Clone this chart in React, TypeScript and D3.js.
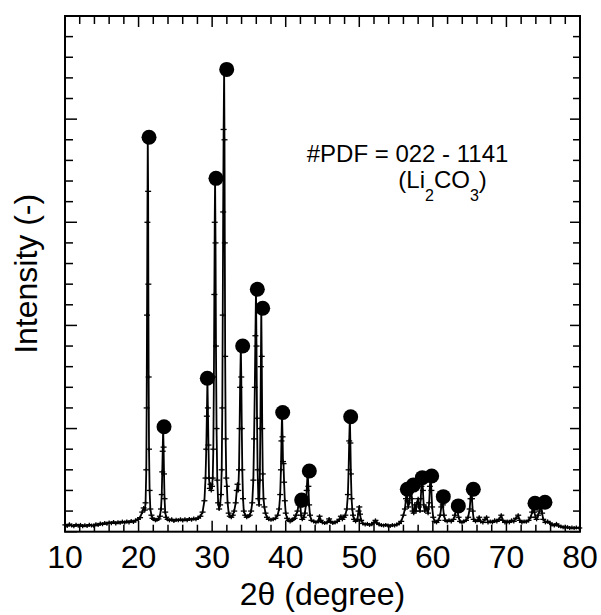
import React from 'react';
import * as d3 from 'd3';

// 2θ (degree), intensity (arbitrary units, 0–25 full scale)
const PROFILE: [number, number][] = [
  [10.05,0.33],[10.3,0.28],[10.6,0.36],[10.9,0.30],[11.2,0.27],[11.5,0.34],[11.8,0.29],[12.1,0.33],[12.4,0.26],[12.7,0.31],
  [13.0,0.28],[13.3,0.34],[13.6,0.30],[13.9,0.29],[14.2,0.36],[14.5,0.32],[14.8,0.40],[15.1,0.36],[15.4,0.42],[15.7,0.38],
  [16.0,0.45],[16.3,0.41],[16.6,0.47],[16.9,0.40],[17.2,0.46],[17.5,0.43],[17.8,0.49],[18.1,0.44],[18.4,0.50],[18.7,0.45],
  [19.0,0.52],[19.3,0.47],[19.6,0.55],[19.9,0.60],[20.2,0.68],[20.5,0.95],[20.7,1.15],[20.85,1.05],[20.95,1.4],[21.05,3.0],
  [21.1,6.0],[21.15,10.5],[21.2,15.0],[21.25,19.1],[21.3,16.5],[21.33,12.0],[21.37,7.5],[21.42,4.0],[21.5,2.0],[21.6,1.1],
  [21.75,0.8],[21.9,0.65],[22.1,0.6],[22.3,0.55],[22.5,0.58],[22.7,0.62],[22.9,0.75],[23.05,1.1],[23.15,1.8],[23.22,2.9],
  [23.28,3.9],[23.34,5.0],[23.4,4.1],[23.46,2.8],[23.53,1.6],[23.62,0.95],[23.75,0.7],[23.95,0.6],[24.2,0.55],[24.5,0.6],
  [24.8,0.52],[25.1,0.58],[25.4,0.55],[25.7,0.6],[26.0,0.54],[26.3,0.6],[26.6,0.56],[26.9,0.62],[27.2,0.58],[27.5,0.64],
  [27.8,0.6],[28.1,0.66],[28.4,0.75],[28.7,0.95],[28.95,1.5],[29.1,2.6],[29.2,4.0],[29.28,5.6],[29.36,7.4],[29.42,6.0],
  [29.5,4.2],[29.58,2.6],[29.68,2.1],[29.78,2.3],[29.88,2.0],[29.98,2.2],[30.08,2.6],[30.16,4.0],[30.24,7.5],[30.3,11.5],
  [30.35,15.0],[30.4,17.1],[30.46,14.0],[30.52,9.0],[30.6,5.0],[30.7,2.5],[30.82,1.4],[30.95,1.1],[31.08,1.3],[31.2,1.8],
  [31.3,3.0],[31.38,6.0],[31.44,10.5],[31.5,15.5],[31.56,19.5],[31.63,22.4],[31.68,19.0],[31.72,14.0],[31.77,8.5],[31.84,4.5],
  [31.92,2.6],[32.0,2.2],[32.1,1.4],[32.25,0.9],[32.4,0.75],[32.6,0.7],[32.8,0.8],[33.0,1.0],[33.2,1.4],[33.35,2.0],
  [33.45,2.3],[33.55,2.0],[33.65,3.0],[33.73,5.0],[33.8,7.0],[33.9,9.0],[33.96,7.5],[34.03,5.0],[34.1,3.0],[34.2,1.6],
  [34.3,1.0],[34.5,0.8],[34.7,0.7],[34.9,0.75],[35.1,0.8],[35.3,1.0],[35.45,1.4],[35.6,2.5],[35.7,4.5],[35.8,7.0],
  [35.88,9.5],[35.96,11.7],[36.03,9.0],[36.1,5.5],[36.18,3.0],[36.28,1.6],[36.38,1.3],[36.48,2.5],[36.55,5.0],[36.62,8.0],
  [36.68,10.8],[36.74,8.5],[36.81,5.0],[36.88,2.8],[36.98,1.6],[37.1,1.2],[37.25,0.9],[37.45,0.7],[37.7,0.6],[38.0,0.58],
  [38.3,0.6],[38.6,0.65],[38.9,0.8],[39.1,1.1],[39.25,1.8],[39.35,3.0],[39.42,4.4],[39.5,5.75],[39.57,4.6],[39.63,3.4],
  [39.7,3.3],[39.78,2.4],[39.88,1.5],[40.0,0.9],[40.2,0.65],[40.4,0.55],[40.6,0.5],[40.8,0.55],[41.0,0.6],[41.2,0.65],
  [41.4,0.8],[41.6,1.0],[41.75,1.3],[41.9,1.55],[42.0,1.2],[42.1,0.8],[42.25,0.6],[42.45,0.7],[42.6,0.9],[42.75,1.3],
  [42.85,2.0],[42.98,2.9],[43.08,2.2],[43.18,1.3],[43.3,0.8],[43.5,0.55],[43.8,0.5],[44.1,0.45],[44.4,0.5],[44.6,0.75],
  [44.75,0.55],[45.0,0.45],[45.3,0.42],[45.6,0.45],[45.9,0.62],[46.1,0.5],[46.4,0.42],[46.7,0.45],[47.0,0.5],[47.3,0.6],
  [47.5,0.75],[47.7,0.6],[47.9,0.7],[48.1,0.8],[48.3,1.1],[48.45,1.8],[48.55,3.0],[48.63,4.4],[48.72,5.55],[48.79,4.3],
  [48.86,2.8],[48.95,1.6],[49.05,1.1],[49.15,0.8],[49.3,0.6],[49.5,0.5],[49.75,0.6],[49.9,1.0],[50.0,1.2],[50.1,0.85],
  [50.25,0.55],[50.5,0.4],[50.8,0.35],[51.1,0.38],[51.4,0.33],[51.7,0.36],[52.0,0.45],[52.2,0.55],[52.4,0.42],[52.7,0.35],
  [53.0,0.32],[53.3,0.3],[53.6,0.33],[53.9,0.3],[54.2,0.28],[54.5,0.32],[54.8,0.3],[55.1,0.35],[55.4,0.4],[55.7,0.5],
  [56.0,0.8],[56.2,1.1],[56.35,1.6],[56.45,2.05],[56.55,1.5],[56.65,1.2],[56.8,1.4],[56.95,1.9],[57.05,2.2],[57.15,1.6],
  [57.25,1.0],[57.4,0.9],[57.55,1.3],[57.7,1.0],[57.85,1.4],[58.0,1.6],[58.1,1.2],[58.25,1.0],[58.35,1.6],[58.45,2.2],
  [58.55,2.6],[58.65,2.0],[58.75,1.3],[58.9,1.0],[59.05,1.2],[59.2,1.1],[59.35,0.9],[59.5,1.4],[59.6,2.2],[59.7,2.7],
  [59.8,2.0],[59.9,1.2],[60.05,0.7],[60.25,0.5],[60.5,0.45],[60.75,0.55],[61.0,0.8],[61.15,1.2],[61.25,1.7],[61.35,1.3],
  [61.5,0.8],[61.7,0.55],[61.95,0.5],[62.2,0.55],[62.5,0.5],[62.8,0.6],[63.0,0.8],[63.15,1.1],[63.25,1.25],[63.35,1.0],
  [63.5,0.7],[63.7,0.5],[63.95,0.45],[64.2,0.5],[64.5,0.55],[64.8,0.7],[65.0,1.1],[65.12,1.6],[65.22,2.05],[65.32,1.6],
  [65.42,1.0],[65.55,0.6],[65.8,0.5],[66.1,0.55],[66.3,0.7],[66.5,0.5],[66.8,0.45],[67.1,0.6],[67.3,0.7],[67.5,0.45],
  [67.8,0.5],[68.1,0.45],[68.4,0.55],[68.7,0.5],[69.0,0.6],[69.3,0.8],[69.5,0.55],[69.8,0.45],[70.1,0.5],[70.4,0.45],
  [70.7,0.55],[71.0,0.5],[71.3,0.65],[71.6,0.8],[71.8,0.55],[72.1,0.45],[72.4,0.5],[72.7,0.48],[73.0,0.55],[73.3,0.7],
  [73.5,0.95],[73.65,1.35],[73.8,0.95],[73.95,0.7],[74.1,0.6],[74.3,0.8],[74.5,1.0],[74.7,1.4],[74.85,0.9],[75.0,0.6],
  [75.3,0.45],[75.6,0.5],[75.9,0.42],[76.2,0.35],[76.5,0.3],[76.8,0.38],[77.1,0.28],[77.4,0.25],[77.7,0.22],[78.0,0.2],
  [78.3,0.22],[78.6,0.18],[78.9,0.2],[79.2,0.18],[79.5,0.2],[79.9,0.18],
];

// Li2CO3 reflections marked with filled circles: 2θ, intensity
const MARKED_PEAKS: [number, number][] = [
  [21.42,19.12],[23.46,5.09],[29.34,7.44],[30.52,17.13],[31.98,22.41],[34.15,9.0],[36.14,11.75],[36.87,10.83],
  [39.59,5.78],[42.17,1.54],[43.21,2.94],[48.83,5.57],[56.53,2.06],[57.34,2.26],[58.57,2.62],[59.84,2.70],
  [61.42,1.70],[63.46,1.25],[65.5,2.06],[73.88,1.38],[75.24,1.43],
];

const X_MAJOR = [10, 20, 30, 40, 50, 60, 70, 80];
const X_LABELS = ['10', '20', '30', '40', '50', '60', '70', '80'];
const Y_MAJOR = [0, 5, 10, 15, 20, 25];

const FONT = "'Liberation Sans', Arial, Helvetica, sans-serif";

export default function App() {
  const L = 65, R = 580, T = 16, B = 531.7;
  const x = d3.scaleLinear().domain([10, 80]).range([L, R]);
  const y = d3.scaleLinear().domain([0, 25]).range([B, T]);
  const xMinor = d3.range(10, 80.01, 2).filter((v) => !X_MAJOR.includes(v));
  const yMinor = d3.range(0, 25.01, 1).filter((v) => !Y_MAJOR.includes(v));

  const line = d3.line<[number, number]>().x((d) => x(d[0])).y((d) => y(d[1]));
  const path = line(PROFILE) || '';

  return (
    <svg width={601} height={615} style={{ position: 'absolute', left: 0, top: 0, background: '#fff' }}
      fontFamily={FONT}>
      <rect x={0} y={0} width={601} height={615} fill="#fff" />
      {/* data line */}
      <path d={path} fill="none" stroke="#000" strokeWidth={1.8} strokeLinejoin="round" />
      {PROFILE.map((d, i) => (
        <g key={i} stroke="#000" strokeWidth={1.3}>
          <line x1={x(d[0]) - 3} x2={x(d[0]) + 3} y1={y(d[1])} y2={y(d[1])} />
          <line x1={x(d[0])} x2={x(d[0])} y1={y(d[1]) - 2} y2={y(d[1]) + 2} />
        </g>
      ))}
      {MARKED_PEAKS.map((d, i) => (
        <circle key={i} cx={x(d[0])} cy={y(d[1])} r={7.5} fill="#000" />
      ))}
      {/* frame */}
      <rect x={L} y={T} width={R - L} height={B - T} fill="none" stroke="#000" strokeWidth={2} />
      {/* x ticks bottom & top */}
      {X_MAJOR.map((v) => (
        <g key={'xm' + v} stroke="#000" strokeWidth={1.5}>
          <line x1={x(v)} x2={x(v)} y1={B} y2={B - 11} />
          <line x1={x(v)} x2={x(v)} y1={T} y2={T + 11} />
        </g>
      ))}
      {xMinor.map((v) => (
        <g key={'xn' + v} stroke="#000" strokeWidth={1.5}>
          <line x1={x(v)} x2={x(v)} y1={B} y2={B - 7} />
          <line x1={x(v)} x2={x(v)} y1={T} y2={T + 8} />
        </g>
      ))}
      {/* y ticks left & right */}
      {Y_MAJOR.map((v) => (
        <g key={'ym' + v} stroke="#000" strokeWidth={1.5}>
          <line x1={L} x2={L + 12} y1={y(v)} y2={y(v)} />
          <line x1={R} x2={R - 10} y1={y(v)} y2={y(v)} />
        </g>
      ))}
      {yMinor.map((v) => (
        <g key={'yn' + v} stroke="#000" strokeWidth={1.5}>
          <line x1={L} x2={L + 8} y1={y(v)} y2={y(v)} />
          <line x1={R} x2={R - 7} y1={y(v)} y2={y(v)} />
        </g>
      ))}
      {/* x tick labels */}
      {X_MAJOR.map((v, i) => (
        <text key={'xl' + v} x={x(v)} y={568} textAnchor="middle" fontSize={32} fill="#000">
          {X_LABELS[i]}
        </text>
      ))}
      <text x={(L + R) / 2} y={605} textAnchor="middle" fontSize={32} fill="#000">2θ (degree)</text>
      <text transform={`translate(37,${(T + B) / 2}) rotate(-90)`} textAnchor="middle" fontSize={32} fill="#000">
        Intensity (-)
      </text>
      {/* annotation */}
      <text x={306.7} y={161.7} fontSize={24} fill="#000">#PDF = 022 - 1141</text>
      <text x={398.3} y={188.3} fontSize={24} fill="#000">
        <tspan>(Li</tspan>
        <tspan fontSize={16} dy={13}>2</tspan>
        <tspan dy={-13}>CO</tspan>
        <tspan fontSize={16} dy={13}>3</tspan>
        <tspan dy={-13}>)</tspan>
      </text>
    </svg>
  );
}
